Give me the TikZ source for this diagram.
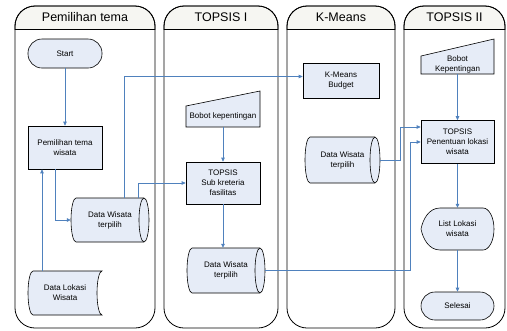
\documentclass[tikz,border=0pt]{standalone}
\usepackage{fontspec}
\setmainfont{Liberation Sans}
\usetikzlibrary{arrows.meta}
\definecolor{nfill}{RGB}{230,236,247}
\definecolor{lblue}{RGB}{79,129,189}
\definecolor{hfill}{RGB}{246,246,242}
\newcommand\lanebox[4]{% x1 x2 name title
  \begin{scope}
    \clip (#1-2,0) rectangle (#2+2,29);
    \filldraw[lane, fill=hfill, rounded corners=20pt] (#1,6) rectangle (#2,328);
  \end{scope}
  \draw[lane, rounded corners=20pt] (#1,6) rectangle (#2,328);
  \draw[lane] (#1,29) -- (#2,29);
  \node[hdr] (#3) at ({(#1+#2)/2},17.5) {#4};}
\newcommand\cyl[5]{% x1 x2 y1 y2 ry
  \filldraw[shp] ({#1+5},#3) -- ({#2-5},#3) arc[start angle=-90,end angle=90,x radius=5,y radius=#5]
    -- ({#1+5},#4) arc[start angle=90,end angle=270,x radius=5,y radius=#5] -- cycle;
  \draw[shp, fill=none] ({#2-5},#3) arc[start angle=-90,end angle=-270,x radius=5,y radius=#5];}
\newcommand\sdata[5]{% x1 x2 y1 y2 ry
  \filldraw[shp] ({#1+5},#3) -- (#2,#3) arc[start angle=-90,end angle=-270,x radius=5,y radius=#5]
    -- ({#1+5},#4) arc[start angle=90,end angle=270,x radius=5,y radius=#5] -- cycle;}
\newcommand\minput[5]{% x1 x2 ytl ytr yb
  \filldraw[shp] (#1,#3) -- (#2,#4) -- (#2,#5) -- (#1,#5) -- cycle;}
\begin{document}
\begin{tikzpicture}[x=1pt,y=-1pt,
  shp/.style={draw=black, fill=nfill, line width=0.6pt},
  txt/.style={font=\fontsize{8}{10}\selectfont, align=center, inner sep=0pt},
  rbox/.style={shp, txt, minimum width=74pt, minimum height=43pt},
  term/.style={shp, txt, minimum width=74pt, rounded corners=14pt},
  lane/.style={draw=black, line width=0.8pt},
  hdr/.style={font=\fontsize{12.5}{14}\selectfont, inner sep=0pt},
  arr/.style={draw=lblue, line width=0.7pt, -{Triangle[length=4pt,width=3.5pt]}}]
\useasboundingbox (0,0) rectangle (507,330);

\lanebox{15}{155}{h1}{Pemilihan tema}
\lanebox{164}{278}{h2}{TOPSIS I}
\lanebox{287}{395}{h3}{K-Means}
\lanebox{404}{505}{h4}{TOPSIS II}

% lane 1
\node[term, minimum height=29pt] (start) at (65,53.5) {Start};
\node[rbox] (ptw) at (65,147.5) {Pemilihan tema\\wisata};
\cyl{71}{149}{198}{242}{22}
\node[txt, minimum width=78pt, minimum height=44pt] (dw1) at (110,220) {Data Wisata\\terpilih};
\sdata{28}{102}{271}{315}{22}
\node[txt, minimum width=74pt, minimum height=44pt] (dlw) at (65,293) {Data Lokasi\\Wisata};

% lane 2
\minput{186}{260}{106}{91}{127}
\node[txt, minimum width=74pt, minimum height=22pt] (bk1) at (223,116) {Bobot kepentingan};
\node[rbox, minimum height=42pt] (ts) at (223,183) {TOPSIS\\Sub kreteria\\fasilitas};
\cyl{187}{265}{248}{293}{22.5}
\node[txt, minimum width=78pt, minimum height=45pt] (dw2) at (226,270.5) {Data Wisata\\terpilih};

% lane 3
\node[rbox, minimum width=76pt, minimum height=35pt] (km) at (341,80.5) {K-Means\\Budget};
\cyl{305}{380}{137}{183}{23}
\node[txt, minimum width=75pt, minimum height=46pt] (dw3) at (342.5,160) {Data Wisata\\terpilih};

% lane 4
\minput{421}{494}{56}{39}{74}
\node[txt, minimum width=73pt, minimum height=20pt] (bk2) at (457.5,64) {Bobot\\Kepentingan};
\node[rbox, minimum width=73pt] (tp) at (457.5,142) {TOPSIS\\Penentuan lokasi\\wisata};
\filldraw[shp] (421,229) .. controls (423,219) and (429,208) .. (440,208) -- (483,208)
  arc[start angle=-90,end angle=90,x radius=11,y radius=21]
  -- (440,250) .. controls (429,250) and (423,239) .. (421,229) -- cycle;
\node[txt, minimum width=73pt, minimum height=42pt] (ll) at (457.5,229) {List Lokasi\\wisata};
\node[term, minimum width=73pt, minimum height=28pt] (sel) at (457.5,306) {Selesai};

% connectors
\draw[arr] (start) -- (ptw);
\draw[arr] ([xshift=-10pt]ptw.south) |- (dw1.west);
\draw[arr] ([xshift=-23pt]dlw.north) -- ([xshift=-23pt]ptw.south);
\draw[arr] ([xshift=14pt]dw1.north) |- ([yshift=4pt]km.west);
\draw[arr] ([xshift=28pt]dw1.north) |- (ts.west);
\draw[arr] (bk1) -- (ts);
\draw[arr] (ts.south) -- (ts.south |- dw2.north);
\draw[arr] (dw2.east) -| ([xshift=-10pt]tp.west) -- (tp.west);
\draw[arr] (dw3.east) -| ([xshift=-20pt,yshift=15pt]tp.west) -- ([yshift=15pt]tp.west);
\draw[arr] (bk2) -- (tp);
\draw[arr] (tp) -- (ll);
\draw[arr] (ll) -- (sel);
\end{tikzpicture}
\end{document}
